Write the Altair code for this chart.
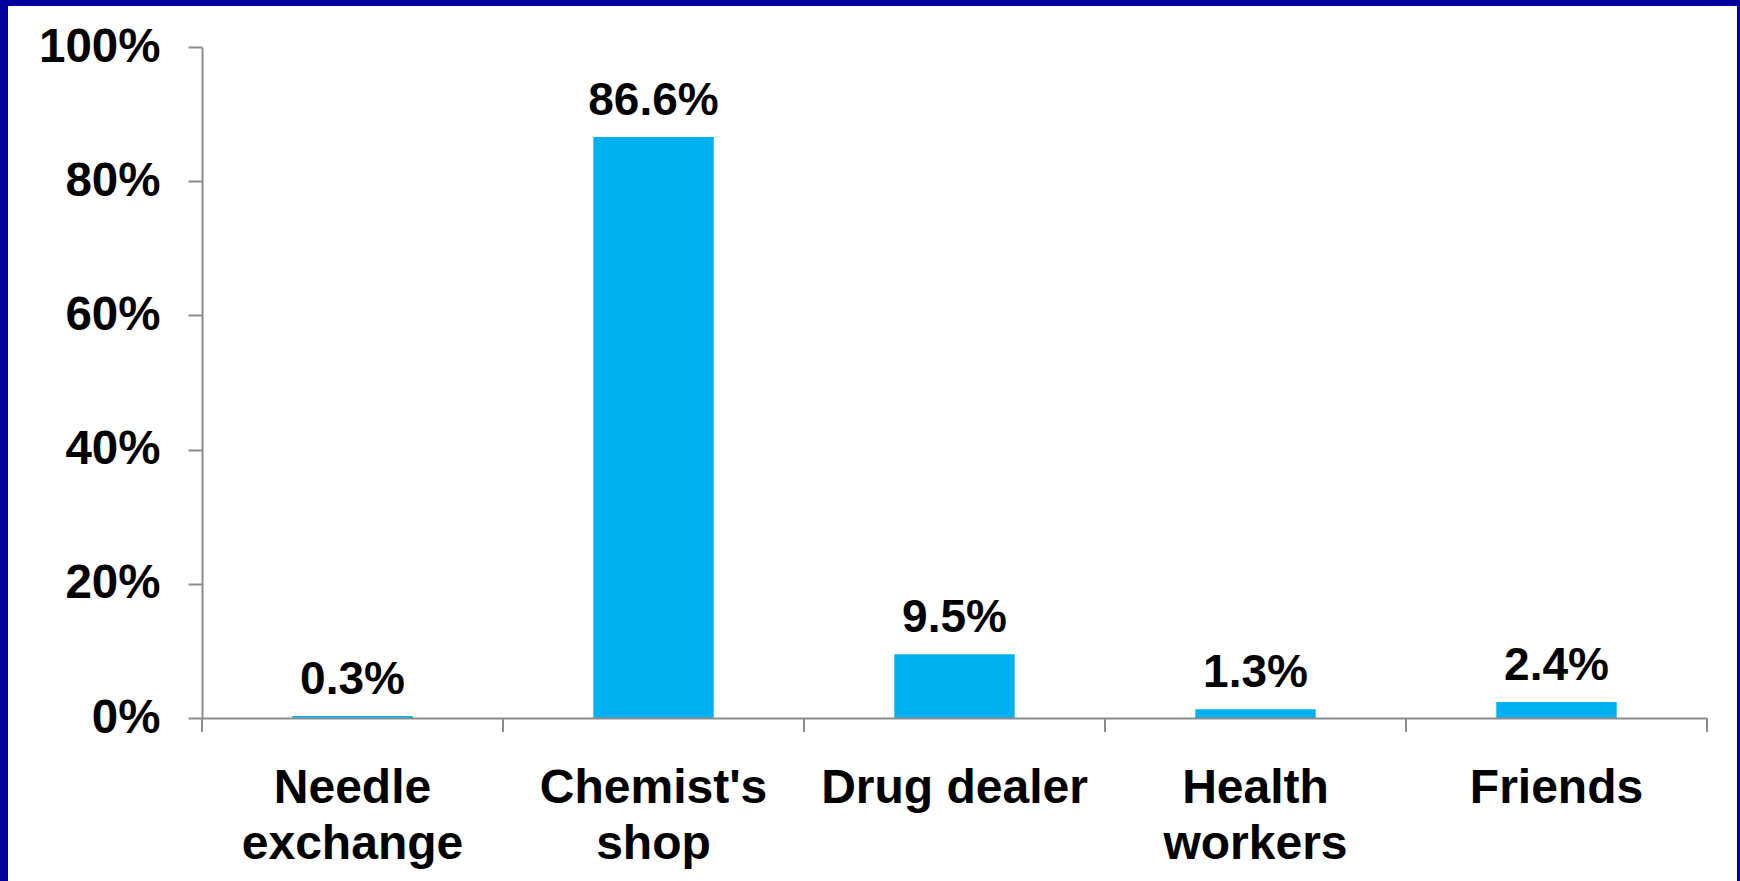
import altair as alt
import pandas as pd

categories = ["Needle\nexchange", "Chemist's\nshop", "Drug dealer", "Health\nworkers", "Friends"]
shares = [0.003, 0.866, 0.095, 0.013, 0.024]
y_ticks = [0, 0.2, 0.4, 0.6, 0.8, 1.0]

df = pd.DataFrame({"cat": categories, "share": shares})

W, H = 1505, 671
PL, PT, PR, PB = 202, 47, 33, 163
FONT = "Liberation Sans"
AXIS_GRAY = "#8C8C8C"
PAD_OUTER = 0.3
STEP = W / (len(categories))
GAP = PAD_OUTER * STEP

panel = alt.Chart(pd.DataFrame({"k": [0]})).mark_rect(color="white").encode(
    x=alt.value(8 - PL), x2=alt.value(1737 - PL),
    y=alt.value(6 - PT), y2=alt.value(881 - PT + 10),
)

xscale = alt.Scale(paddingInner=0.6, paddingOuter=PAD_OUTER)
x = alt.X(
    "cat:N", sort=categories, scale=xscale,
    axis=alt.Axis(
        title=None, labelAngle=0, zindex=1, ticks=False,
        labelExpr="split(datum.label, '\\n')", labelLimit=0,
        labelFont=FONT, labelFontSize=48, labelFontWeight="bold", labelColor="black",
        labelLineHeight=56, labelPadding=46, labelBaseline="top",
        domainColor=AXIS_GRAY, domainWidth=2,
    ),
)
y = alt.Y(
    "share:Q", scale=alt.Scale(domain=[0, 1], nice=False),
    axis=alt.Axis(
        title=None, values=y_ticks, format="%", grid=False, zindex=1,
        labelFont=FONT, labelFontSize=47.5, labelFontWeight="bold", labelColor="black",
        labelPadding=28, tickSize=14, tickColor=AXIS_GRAY, tickWidth=2,
        domainColor=AXIS_GRAY, domainWidth=2,
    ),
)

bars = alt.Chart(df).mark_bar(color="#00B0F0").encode(x=x, y=y)
labels = alt.Chart(df).mark_text(
    baseline="alphabetic", dy=-22, font=FONT, fontSize=46, fontWeight="bold", color="black"
).encode(x=x, y=y, text=alt.Text("share:Q", format=".1%"))

ticks_left = alt.Chart(df).mark_rule(color=AXIS_GRAY, strokeWidth=2, xOffset=-GAP).encode(
    x=alt.X("cat:N", sort=categories, scale=xscale, bandPosition=0),
    y=alt.value(H), y2=alt.value(H + 14),
)
ticks_right = alt.Chart(df).mark_rule(color=AXIS_GRAY, strokeWidth=2, xOffset=GAP).encode(
    x=alt.X("cat:N", sort=categories, scale=xscale, bandPosition=1),
    y=alt.value(H), y2=alt.value(H + 14),
)

chart = alt.layer(panel, bars, labels, ticks_left, ticks_right).properties(
    width=W, height=H,
    padding={"left": PL, "top": PT, "right": PR, "bottom": PB},
    autosize=alt.AutoSizeParams(type="none"),
    background="#00009C",
).configure_view(stroke=None)

chart.save("out.html", embed_options={"renderer": "svg", "actions": False})
